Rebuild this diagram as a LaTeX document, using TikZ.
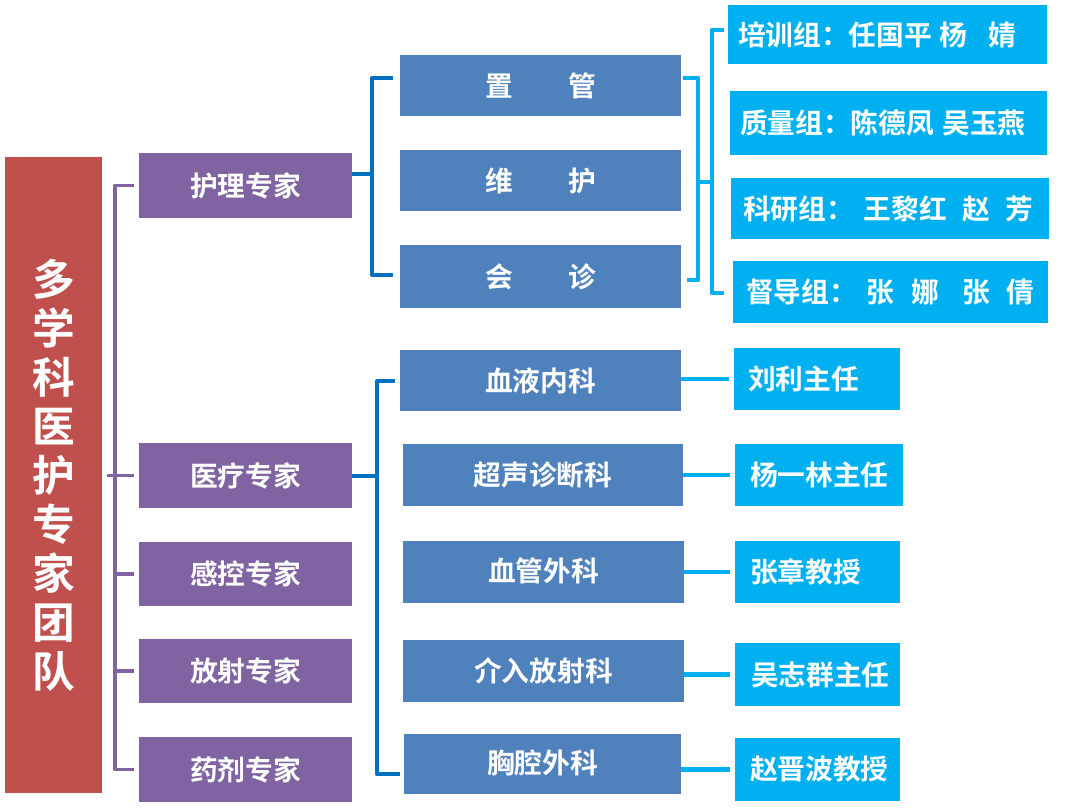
\documentclass[tikz,border=0pt]{standalone}
\usepackage{fontspec}
\newfontfamily\cjkb{Noto Sans CJK SC Bold}
\definecolor{myred}{HTML}{C0504D}
\definecolor{mypurple}{HTML}{8064A2}
\definecolor{myblue}{HTML}{4F81BD}
\definecolor{mycyan}{HTML}{00B0F0}
\definecolor{mydark}{HTML}{0070C0}
\newcommand\bx[7]{\pgfmathsetmacro\bxw{(#5-#3)*0.75}\pgfmathsetmacro\bxh{(#6-#4)*0.75}%
 \node[#2,minimum width=\bxw pt,minimum height=\bxh pt] (#1) at ({(#3+#5)/2},{(#4+#6)/2}) {#7};}
\newcommand\lbx[8]{\pgfmathsetmacro\bxw{(#5-#3-2*#7)*0.75}\pgfmathsetmacro\bxh{(#6-#4)*0.75}\pgfmathsetmacro\bxp{#7*0.75}%
 \node[#2,inner xsep=\bxp pt,text width=\bxw pt,align=left,minimum height=\bxh pt] (#1) at ({(#3+#5)/2},{(#4+#6)/2}) {#8};}
\tikzset{
 bx/.style={rectangle, inner sep=0pt, text=white, font=\cjkb\fontsize{20.8}{24}\selectfont},
 redbox/.style={bx, fill=myred, font=\cjkb\fontsize{32}{36.75}\selectfont, align=center},
 purplebox/.style={bx, fill=mypurple},
 bluebox/.style={bx, fill=myblue},
 cyanbox/.style={bx, fill=mycyan},
 pl/.style={draw=mypurple, line width=2.6pt, line join=round},
 dl/.style={draw=mydark, line width=3pt, line join=round},
 cl/.style={draw=mycyan, line width=3.3pt, line join=round},
}
\begin{document}
\begin{tikzpicture}[x=0.75pt,y=-0.75pt]
\useasboundingbox[fill=white] (0,0) rectangle (1080,807);
% title
\bx{red}{redbox}{5}{157}{102}{793}{多\\学\\科\\医\\护\\专\\家\\团\\队}
% purple
\bx{p1}{purplebox}{139}{153}{352}{218}{护理专家}
\bx{p2}{purplebox}{139}{443}{352}{508}{医疗专家}
\bx{p3}{purplebox}{139}{542}{352}{606}{感控专家}
\bx{p4}{purplebox}{139}{639}{352}{703}{放射专家}
\bx{p5}{purplebox}{139}{737}{352}{802}{药剂专家}
% blue upper
\bx{n1}{bluebox}{400}{55}{681}{116}{置\hspace{2em}管}
\bx{n2}{bluebox}{400}{150}{681}{211}{维\hspace{2em}护}
\bx{n3}{bluebox}{400}{245}{681}{308}{会\hspace{2em}诊}
% cyan upper
\lbx{g1}{cyanbox}{728}{5}{1047}{64}{10}{\raisebox{-2.5pt}{培训组：任国平\hspace{0.26em}杨\hspace{0.78em}婧}}
\lbx{g2}{cyanbox}{730}{91}{1047}{155}{10}{\raisebox{-2.5pt}{质量组：陈德凤\hspace{0.3em}吴玉燕}}
\lbx{g3}{cyanbox}{731}{178}{1049}{239}{12}{\raisebox{-1.5pt}{科研组：\hspace{0.35em}王黎红\hspace{0.55em}赵\hspace{0.55em}芳}}
\lbx{g4}{cyanbox}{733}{261}{1048}{323}{13}{\raisebox{-1.5pt}{督导组：\hspace{0.35em}张\hspace{0.6em}娜\hspace{0.85em}张\hspace{0.6em}倩}}
% blue lower
\bx{m1}{bluebox}{400}{350}{681}{411}{血液内科}
\bx{m2}{bluebox}{403}{444}{683}{506}{超声诊断科}
\bx{m3}{bluebox}{403}{541}{684}{603}{\raisebox{4pt}{血管外科}}
\bx{m4}{bluebox}{403}{640}{684}{702}{介入放射科}
\bx{m5}{bluebox}{404}{734}{681}{794}{\raisebox{4pt}{胸腔外科}}
% cyan lower
\lbx{r1}{cyanbox}{734}{348}{900}{410}{14}{刘利主任}
\lbx{r2}{cyanbox}{735}{444}{903}{506}{15}{杨一林主任}
\lbx{r3}{cyanbox}{735}{541}{900}{603}{15}{张章教授}
\lbx{r4}{cyanbox}{735}{643}{900}{706}{16}{吴志群主任}
\lbx{r5}{cyanbox}{735}{738}{900}{801}{15}{赵晋波教授}
% purple connectors
\coordinate (pj) at (115,476);
\draw[pl] ([xshift=-3.75pt]p1.west) -| (pj) |- ([xshift=-3.75pt]p5.west);
\draw[pl] ([xshift=3.75pt]red.east |- p2.west) -- ([xshift=-3.75pt]p2.west);
\draw[pl] (pj |- p3.west) -- ([xshift=-3.75pt]p3.west);
\draw[pl] (pj |- p4.west) -- ([xshift=-3.75pt]p4.west);
% dark blue bracket upper
\coordinate (dj1) at (372,174);
\coordinate (dt1) at (393,78);
\coordinate (dt3) at (393,275);
\draw[dl] (p1.east |- dj1) -- (dj1);
\draw[dl] (dt1) -| (dj1) |- (dt3);
% cyan brackets upper
\coordinate (cj1) at (698,182);
\coordinate (ct1) at (683,78);
\coordinate (ct3) at (687,280);
\draw[cl] (ct1) -| (cj1) |- (ct3);
\coordinate (cj2) at (712,182);
\draw[cl] (cj1) -- (cj2);
\coordinate (ct4) at (724,30);
\coordinate (ct5) at (724,293);
\draw[cl] (ct4) -| (cj2) |- (ct5);
% dark blue bracket lower
\coordinate (dj2) at (377,476);
\coordinate (dt4) at (395,381);
\coordinate (dt5) at (400,774);
\draw[dl] (p2.east |- dj2) -- (dj2);
\draw[dl] (dt4) -| (dj2) |- (dt5);
% cyan lower connectors
\draw[cl] (m1.east |- r1.west) -- ([xshift=-3.75pt]r1.west);
\draw[cl] (m2.east |- r2.west) -- ([xshift=-3.75pt]r2.west);
\draw[cl] (m3.east |- r3.west) -- ([xshift=-3.75pt]r3.west);
\draw[cl] (m4.east |- r4.west) -- ([xshift=-3.75pt]r4.west);
\draw[cl] (m5.east |- r5.west) -- ([xshift=-3.75pt]r5.west);
\end{tikzpicture}
\end{document}
